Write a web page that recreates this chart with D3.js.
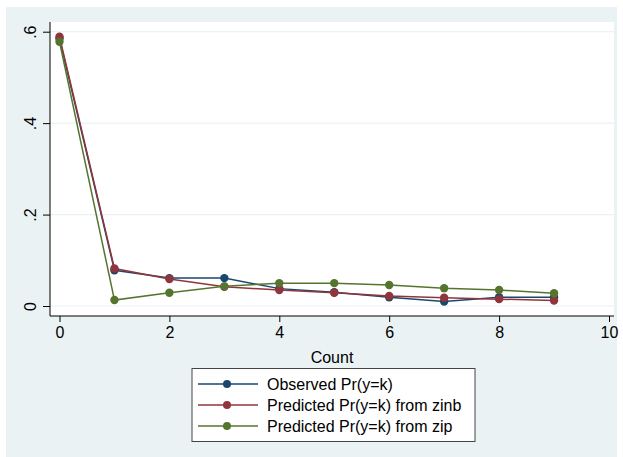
<!DOCTYPE html>
<html>
<head>
<meta charset="utf-8">
<script src="https://cdn.jsdelivr.net/npm/d3@7"></script>
<style>
  body { margin: 0; background: #fff; }
  text { font-family: "Liberation Sans", Arial, sans-serif; fill: #000; }
</style>
</head>
<body>
<svg id="chart" width="623" height="457"></svg>
<script>
const counts = [0, 1, 2, 3, 4, 5, 6, 7, 8, 9];
const observed = [0.585, 0.078, 0.061, 0.061, 0.038, 0.030, 0.019, 0.010, 0.019, 0.019];
const predZinb = [0.589, 0.082, 0.059, 0.042, 0.035, 0.029, 0.022, 0.018, 0.015, 0.012];
const predZip = [0.578, 0.013, 0.029, 0.043, 0.050, 0.050, 0.046, 0.039, 0.035, 0.028];

const xTicks = [0, 2, 4, 6, 8, 10];
const yTicks = [0, 0.2, 0.4, 0.6];
const yTickLabels = ["0", ".2", ".4", ".6"];

const seriesList = [
    { name: "Observed Pr(y=k)", values: observed, color: "#1a476f" },
    { name: "Predicted Pr(y=k) from zinb", values: predZinb, color: "#90353b" },
    { name: "Predicted Pr(y=k) from zip", values: predZip, color: "#55752f" }
];

const svg = d3.select("#chart");

// outer graph region
svg.append("rect")
    .attr("x", 6).attr("y", 7)
    .attr("width", 611).attr("height", 450)
    .attr("fill", "#eaf2f3");

const plot = { left: 50, right: 614, top: 22, bottom: 316 };

svg.append("rect")
    .attr("x", plot.left).attr("y", plot.top)
    .attr("width", plot.right - plot.left).attr("height", plot.bottom - plot.top)
    .attr("fill", "#fff");

const x = d3.scaleLinear().domain([0, 10]).range([59.5, 609]);
const y = d3.scaleLinear().domain([0, 0.6]).range([306, 31.7]);

// gridlines
svg.append("g")
    .selectAll("line")
    .data(yTicks)
    .join("line")
    .attr("x1", plot.left).attr("x2", plot.right)
    .attr("y1", d => y(d)).attr("y2", d => y(d))
    .attr("stroke", "#eaf2f3")
    .attr("stroke-width", 1.2);

// y axis
const yAxis = svg.append("g")
    .attr("transform", `translate(${plot.left},0)`)
    .call(d3.axisLeft(y).tickValues(yTicks).tickSize(7).tickSizeOuter(0)
        .tickFormat((d, i) => yTickLabels[i]));
yAxis.select(".domain").attr("d", `M0,${plot.top}V${plot.bottom}`).attr("stroke", "#000");
yAxis.selectAll(".tick line").attr("stroke", "#000");
yAxis.selectAll(".tick text")
    .attr("font-size", 16)
    .attr("x", 0)
    .attr("text-anchor", "middle")
    .attr("transform", "translate(-20,0) rotate(-90)")
    .attr("dy", "0.35em");

// x axis
const xAxis = svg.append("g")
    .attr("transform", `translate(0,${plot.bottom})`)
    .call(d3.axisBottom(x).tickValues(xTicks).tickSize(6).tickSizeOuter(0));
xAxis.select(".domain").attr("d", `M${plot.left},0H${plot.right}`).attr("stroke", "#000");
xAxis.selectAll(".tick line").attr("stroke", "#000");
xAxis.selectAll(".tick text").attr("font-size", 16).attr("y", 11).attr("dy", "0.71em");

svg.append("text")
    .attr("x", (plot.left + plot.right) / 2)
    .attr("y", 363)
    .attr("text-anchor", "middle")
    .attr("font-size", 16)
    .text("Count");

// series
const line = d3.line().x((d, i) => x(counts[i])).y(d => y(d));

const seriesG = svg.append("g")
    .selectAll("g")
    .data(seriesList)
    .join("g");

seriesG.append("path")
    .attr("d", d => line(d.values))
    .attr("fill", "none")
    .attr("stroke", d => d.color)
    .attr("stroke-width", 1.5);

seriesG.selectAll("circle")
    .data(d => d.values.map((v, i) => ({ v, i, color: d.color })))
    .join("circle")
    .attr("cx", d => x(counts[d.i]))
    .attr("cy", d => y(d.v))
    .attr("r", 4.2)
    .attr("fill", d => d.color);

// legend
const legend = svg.append("g");
legend.append("rect")
    .attr("x", 192).attr("y", 368.5)
    .attr("width", 283).attr("height", 73)
    .attr("fill", "#fff")
    .attr("stroke", "#444")
    .attr("stroke-width", 1);

const items = legend.selectAll("g")
    .data(seriesList)
    .join("g")
    .attr("transform", (d, i) => `translate(0,${384 + i * 21})`);

items.append("line")
    .attr("x1", 198).attr("x2", 258)
    .attr("stroke", d => d.color)
    .attr("stroke-width", 1.5);
items.append("circle")
    .attr("cx", 227).attr("r", 4)
    .attr("fill", d => d.color);
items.append("text")
    .attr("x", 267).attr("dy", "0.35em")
    .attr("font-size", 16)
    .text(d => d.name);
</script>
</body>
</html>
